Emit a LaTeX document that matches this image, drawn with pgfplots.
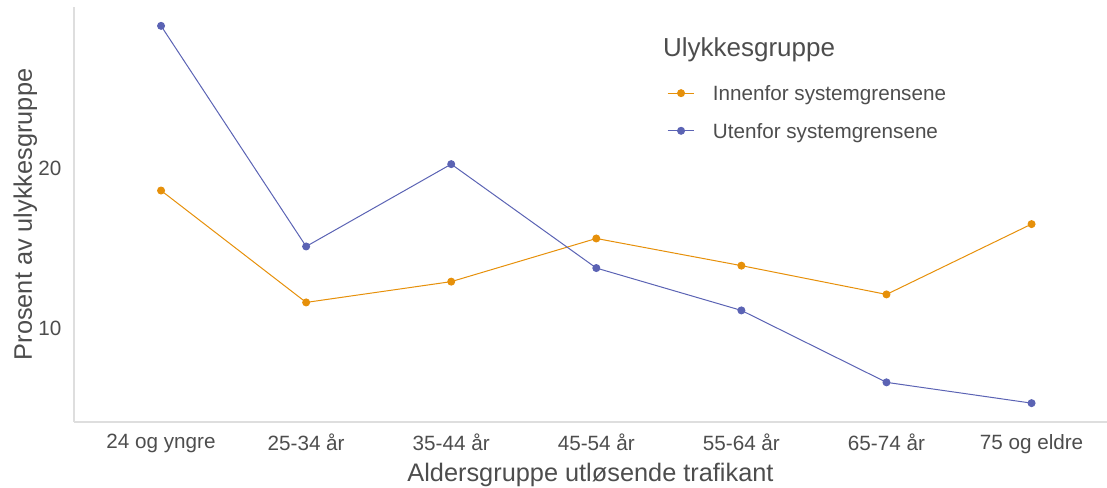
\documentclass[border=0pt]{standalone}
\usepackage{fontspec}
\setmainfont{Liberation Sans}
\usepackage{pgfplots}
\pgfplotsset{compat=1.18}
\usetikzlibrary{calc}

\definecolor{inn}{HTML}{E6900A}
\definecolor{ute}{HTML}{5B63B4}
\definecolor{txt}{HTML}{4D4D4D}
\definecolor{axl}{HTML}{DEDEDE}

\begin{document}
\begin{tikzpicture}
\begin{axis}[
    scale only axis,
    width=774.75pt, height=311.25pt,
    xmin=-0.6, xmax=6.52,
    ymin=4.12, ymax=30.08,
    xtick={0,1,2,3,4,5,6},
    xticklabels={24 og yngre, 25-34 år, 35-44 år, 45-54 år, 55-64 år, 65-74 år, 75 og eldre},
    ytick={10,20},
    major tick length=0pt,
    axis x line*=bottom, axis y line*=left,
    axis line style={axl, line width=1.1pt, -},
    tick label style={font=\fontsize{15.5}{18}\selectfont, text=txt},
    /pgf/number format/assume math mode=true,
    xticklabel style={yshift=-5.5pt},
    yticklabel style={xshift=-6pt},
    xlabel={Aldersgruppe utløsende trafikant},
    ylabel={Prosent av ulykkesgruppe},
    label style={font=\fontsize{19}{22}\selectfont, text=txt},
    xlabel style={yshift=-0.5pt},
    ylabel style={yshift=-6pt},
    legend style={draw=none, fill=none, inner sep=0pt, at={(0.574,0.811)}, anchor=north west,
        font=\fontsize{15.5}{18}\selectfont, text=txt, row sep=17pt, column sep=13.5pt,
        nodes={inner sep=0pt, text depth=0pt}},
    legend cell align=left,
    legend image code/.code={
        \draw[#1, mark=none] (0pt,0pt) -- (20pt,0pt);
        \draw[#1, only marks] plot coordinates {(10pt,0pt)};
    },
    every axis plot/.append style={line width=0.75pt, mark=*, mark size=2.6pt},
]
\addplot[inn] coordinates {(0,18.6) (1,11.6) (2,12.9) (3,15.6) (4,13.9) (5,12.1) (6,16.5)};
\addlegendentry{Innenfor systemgrensene}
\addplot[ute] coordinates {(0,28.9) (1,15.1) (2,20.25) (3,13.75) (4,11.1) (5,6.6) (6,5.3)};
\addlegendentry{Utenfor systemgrensene}
\node[anchor=west, inner sep=0pt, font=\fontsize{19.5}{22}\selectfont, text=txt] at (rel axis cs:0.570,0.897) {Ulykkesgruppe};
\end{axis}
\pgfresetboundingbox
\path (current axis.south west) ++(-55.5pt,-49.5pt) rectangle ($(current axis.north east)+(0,5.25pt)$);
\end{tikzpicture}
\end{document}
